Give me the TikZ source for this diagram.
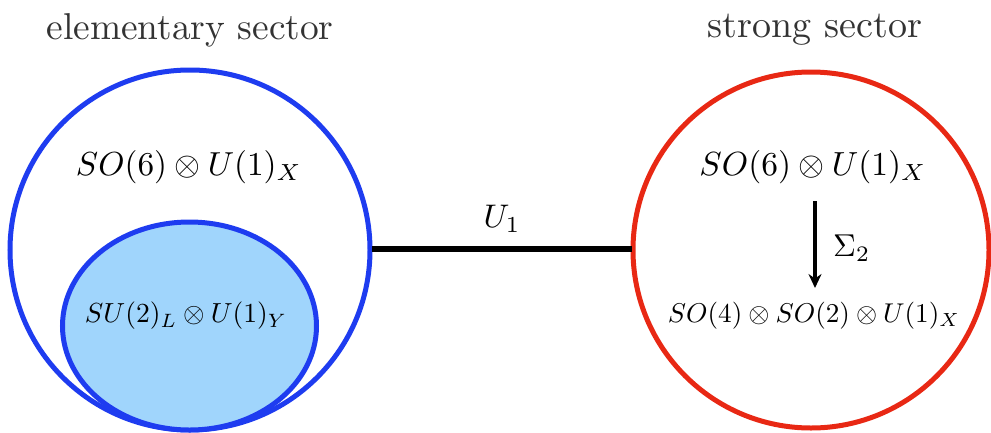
\documentclass[tikz,border=0pt]{standalone}
\usepackage{graphicx}
\usetikzlibrary{arrows.meta}
\definecolor{eblue}{RGB}{30,60,240}
\definecolor{efill}{RGB}{160,213,252}
\definecolor{sred}{RGB}{232,40,20}
\newcommand{\fitw}[2]{\resizebox{#1pt}{!}{#2}}
\begin{document}
\begin{tikzpicture}[x=1pt,y=-1pt,
  sector/.style={text=black!80, inner sep=0pt},
  grp/.style={inner sep=0pt},
  ring/.style={line width=5pt}]
\useasboundingbox (0,0) rectangle (991,432);
% left sector
\draw[ring, eblue, fill=white] (190,250) circle (180);
\draw[ring, eblue, fill=efill] (189.5,326) ellipse (127 and 104);
\node[sector] (elabel) at (190,30) {\fitw{287}{elementary sector}};
\node[grp] (eso) at (189,167) {\fitw{226}{$SO(6)\otimes U(1)_X$}};
\node[grp] (esu) at (186,316) {\fitw{202}{$SU(2)_L\otimes U(1)_Y$}};
% right sector
\draw[ring, sred] (811,250) circle (178);
\node[sector] (slabel) at (815,30) {\fitw{214}{strong sector}};
\node[grp] (sso) at (813,167) {\fitw{227}{$SO(6)\otimes U(1)_X$}};
\node[grp] (sbreak) at (814,316) {\fitw{292}{$SO(4)\otimes SO(2)\otimes U(1)_X$}};
\coordinate (atop) at (815,201);
\coordinate (abot) at (815,288);
\draw[line width=3.5pt, -{Stealth[length=14pt,width=13pt]}] (atop) -- (abot);
\node[grp, anchor=west] (sigma) at (833,248) {\fitw{37}{$\Sigma_2$}};
% link
\coordinate (lA) at (372,249);
\coordinate (lB) at (632,249);
\draw[line width=5.5pt] (lA) -- (lB);
\node[grp] (ulabel) at (502,219) {\fitw{37}{$U_1$}};
\end{tikzpicture}
\end{document}
